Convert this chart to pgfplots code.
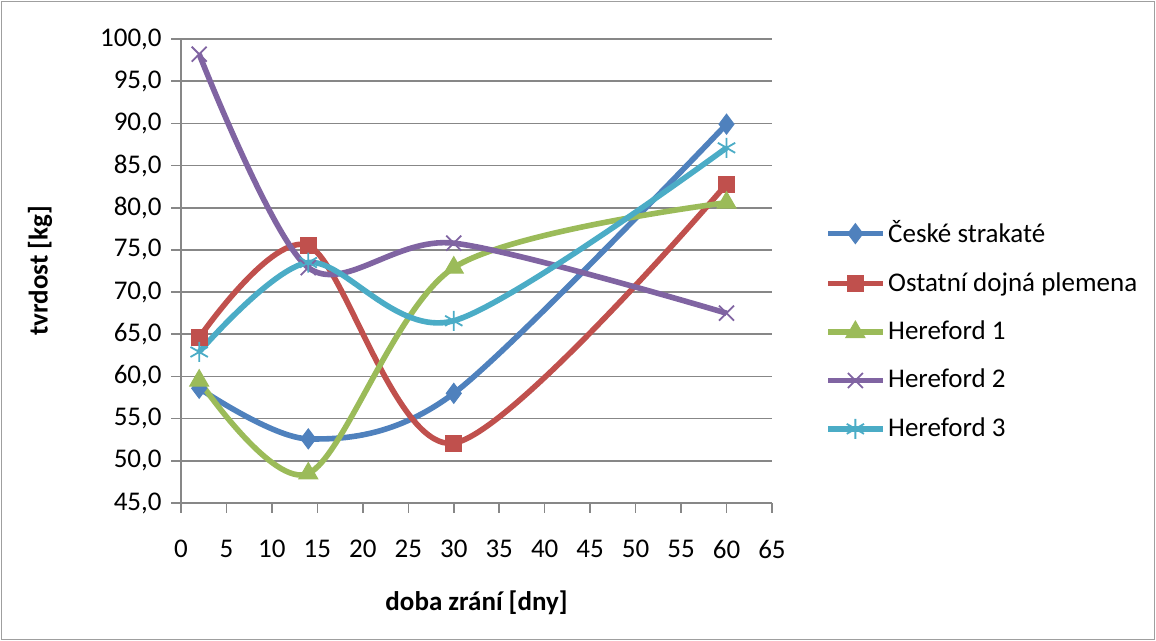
\documentclass[border=0pt]{standalone}
\usepackage{fontspec}
\setmainfont{Carlito}
\usepackage{pgfplots}
\pgfplotsset{compat=1.18}

\definecolor{cBlue}{HTML}{4F81BD}
\definecolor{cRed}{HTML}{C0504D}
\definecolor{cGreen}{HTML}{9BBB59}
\definecolor{cPurple}{HTML}{8064A2}
\definecolor{cCyan}{HTML}{4BACC6}
\definecolor{gridgray}{HTML}{878787}

\begin{document}
\fontsize{13.5pt}{16pt}\selectfont
\begin{tikzpicture}
\useasboundingbox (0,0) rectangle (578pt,320.5pt);
\draw[draw=gridgray!80, line width=0.6pt] (0.6pt,0.6pt) rectangle (577.4pt,319.9pt);
\begin{axis}[
  at={(90.5pt,69pt)}, anchor=south west,
  scale only axis, width=295.5pt, height=232pt,
  xmin=0, xmax=65, ymin=45, ymax=100,
  xtick distance=5, ytick distance=5,
  axis x line*=bottom, axis y line*=left,
  axis line style={draw=gridgray, line width=0.8pt, -},
  tick style={draw=gridgray, line width=0.8pt},
  tick align=outside, major tick length=5pt,
  ymajorgrids, grid style={draw=gridgray, line width=0.8pt},
  font=\fontsize{13.5pt}{16pt}\selectfont,
  /pgf/number format/assume math mode=true,
  yticklabel style={/pgf/number format/.cd, fixed, fixed zerofill, precision=1, use comma},
  xticklabel style={yshift=-9pt, /pgf/number format/.cd, fixed, precision=0},
  every axis x label/.style={at={([yshift=-50pt]axis description cs:0.5,0)}, anchor=center, font=\fontsize{13.5pt}{16pt}\selectfont\bfseries},
  every axis y label/.style={at={([xshift=-70.5pt]axis description cs:0,0.5)}, anchor=center, rotate=90, font=\fontsize{13.5pt}{16pt}\selectfont\bfseries},
  xlabel={doba zrání [dny]},
  ylabel={tvrdost [kg]},
  legend style={at={(rel axis cs:1.09,0.372)}, anchor=west, draw=none, fill=none,
    inner sep=0pt, row sep=8.8pt, font=\fontsize{13.5pt}{16pt}\selectfont,
    nodes={inner xsep=1.5pt}},
  legend cell align=left,
  legend image code/.code={
    \draw[mark repeat=2,mark phase=2] plot coordinates {(0pt,0pt) (13.5pt,0pt) (27pt,0pt)};
  },
  every axis plot/.append style={line width=2.8pt, smooth},
]
\addplot[cBlue, mark=diamond*, mark size=5pt, mark options={solid, line width=0.5pt, fill=cBlue}]
  coordinates {(2,58.6) (14,52.6) (30,58.0) (60,89.9)};
\addlegendentry{České strakaté}
\addplot[cRed, mark=square*, mark size=4pt, mark options={solid, line width=0.5pt, fill=cRed}]
  coordinates {(2,64.6) (14,75.5) (30,52.1) (60,82.8)};
\addlegendentry{Ostatní dojná plemena}
\addplot[cGreen, mark=triangle*, mark size=5.5pt, mark options={solid, line width=0.5pt, fill=cGreen}]
  coordinates {(2,59.5) (14,48.5) (30,72.9) (60,80.6)};
\addlegendentry{Hereford 1}
\addplot[cPurple, mark=x, mark size=5.3pt, mark options={solid, line width=0.9pt}]
  coordinates {(2,98.2) (14,72.9) (30,75.8) (60,67.5)};
\addlegendentry{Hereford 2}
\addplot[cCyan, mark=asterisk, mark size=5pt, mark options={solid, line width=0.9pt}]
  coordinates {(2,62.9) (14,73.5) (30,66.6) (60,87.1)};
\addlegendentry{Hereford 3}
\end{axis}
\end{tikzpicture}
\end{document}
